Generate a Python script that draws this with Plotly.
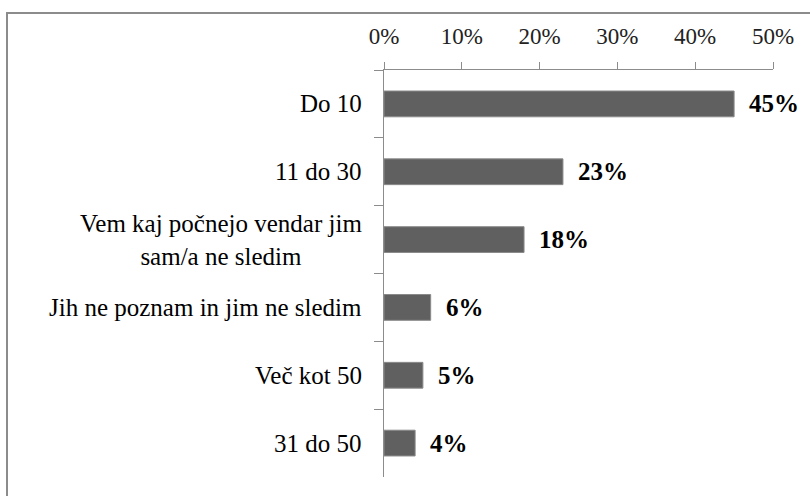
import plotly.graph_objects as go

categories = ["Do 10", "11 do 30", "Vem kaj počnejo vendar jim<br>sam/a ne sledim",
              "Jih ne poznam in jim ne sledim", "Več kot 50", "31 do 50"]
values = [45, 23, 18, 6, 5, 4]
tick_vals = [0, 10, 20, 30, 40, 50]
tick_text = ["0%", "10%", "20%", "30%", "40%", "50%"]
value_labels = [f"{v}%" for v in values]

W, H = 810, 496
x0p, x1p = 384, 773
y0p, y1p = 70, 477

fig = go.Figure(go.Bar(
    x=values, y=categories, orientation="h",
    marker=dict(color="#606060", line=dict(color="#8a8a8a", width=1)),
    hoverinfo="skip",
))

serif = "Liberation Serif"

for v, c, t in zip(values, categories, value_labels):
    fig.add_annotation(x=v, y=c, xref="x", yref="y", text=f"<b>{t}</b>",
                       showarrow=False, xanchor="left", xshift=13,
                       font=dict(family=serif, size=25, color="#000000"))

for c in categories:
    fig.add_annotation(x=x0p / W, y=c, xref="paper", yref="y", text=c,
                       showarrow=False, xanchor="right", xshift=-20, align="center",
                       font=dict(family=serif, size=25, color="#000000"))

# outer chart border
fig.add_shape(type="rect", xref="paper", yref="paper",
              x0=7 / W, x1=1.02, y0=-0.02, y1=1 - 13 / H,
              line=dict(color="#8c8c8c", width=2), fillcolor="rgba(0,0,0,0)", layer="below")

fig.update_layout(
    width=W, height=H,
    margin=dict(l=0, r=0, t=0, b=0),
    paper_bgcolor="white", plot_bgcolor="white",
    showlegend=False,
    bargap=0.62,
    xaxis=dict(domain=[x0p / W, x1p / W], side="top", range=[0, 50],
               tickvals=tick_vals, ticktext=tick_text,
               ticks="outside", ticklen=7, tickcolor="#8c8c8c",
               showline=True, linecolor="#8c8c8c", linewidth=1,
               showgrid=False, zeroline=False, automargin=False,
               ticklabelstandoff=9,
               tickfont=dict(family=serif, size=23, color="#222222")),
    yaxis=dict(domain=[1 - y1p / H, 1 - y0p / H], autorange="reversed",
               type="category", showticklabels=False,
               ticks="outside", ticklen=9, tickcolor="#8c8c8c", tickson="boundaries",
               showline=True, linecolor="#8c8c8c", linewidth=1,
               showgrid=False, zeroline=False, automargin=False),
)

fig.write_html("out.html", config={"displayModeBar": False},
               post_script="document.body.style.margin='0px';")
